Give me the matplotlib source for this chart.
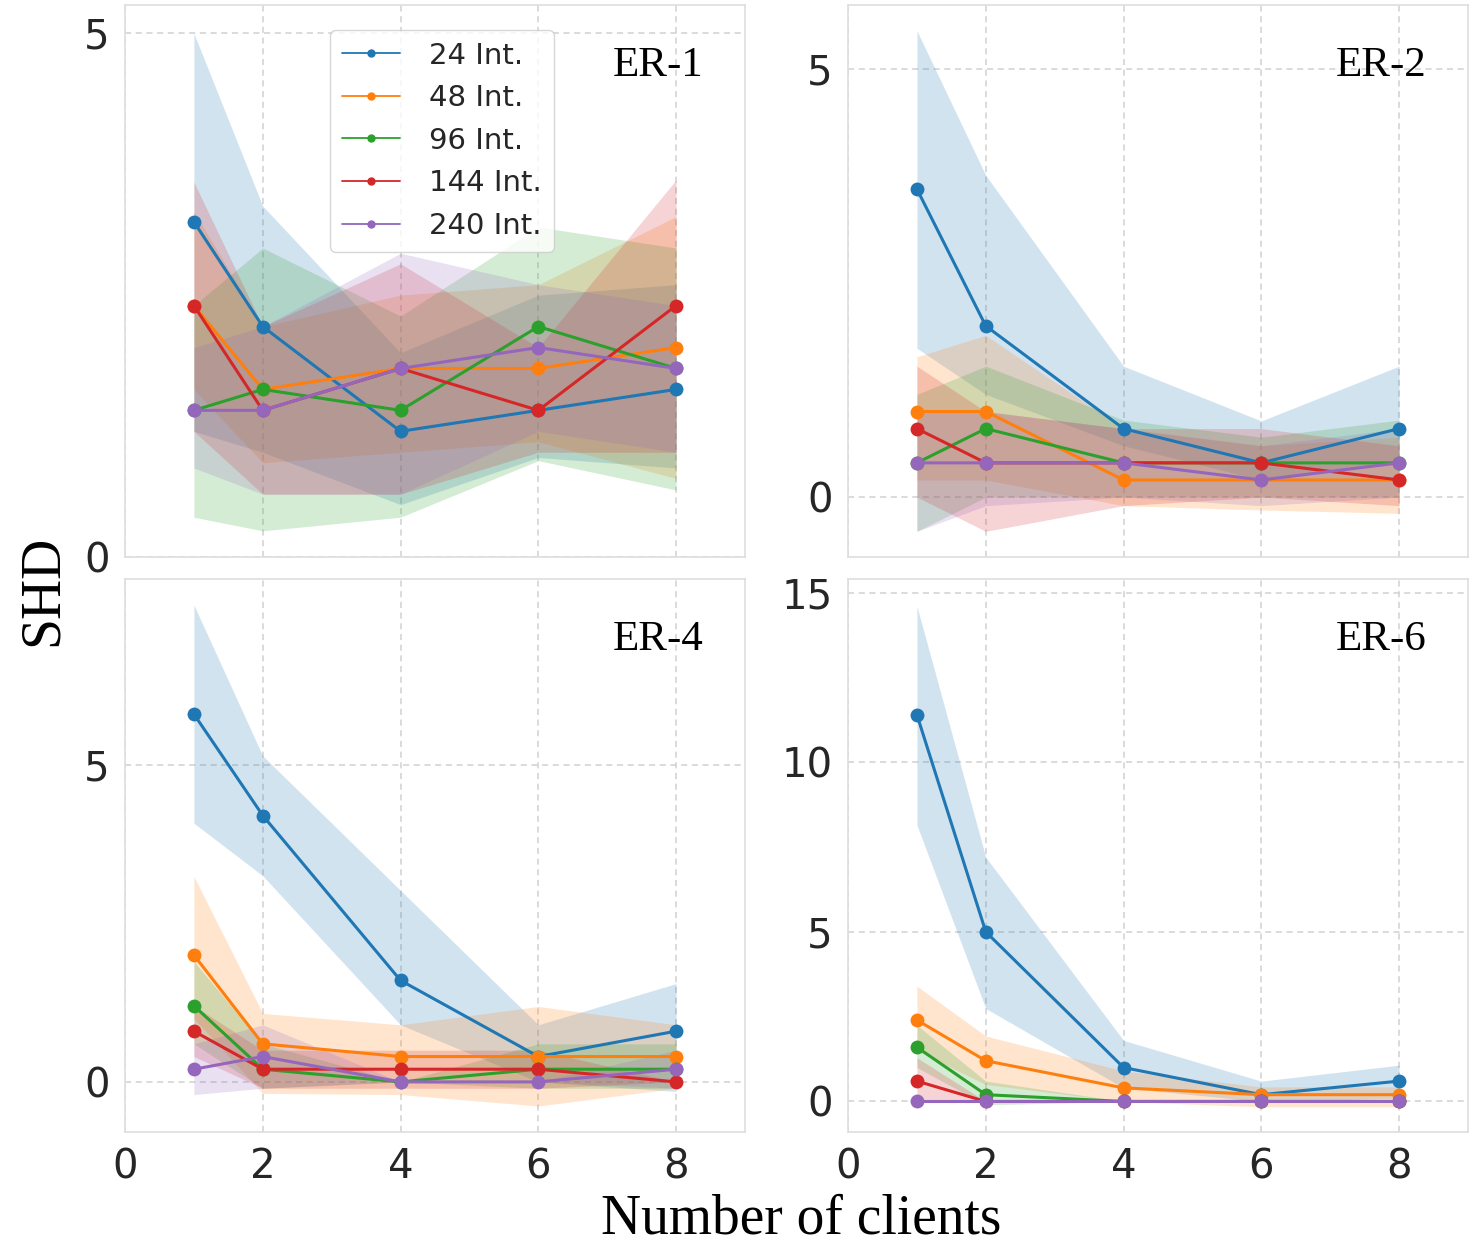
import matplotlib
matplotlib.use("Agg")
import matplotlib.pyplot as plt
from matplotlib.lines import Line2D
import seaborn as sns

# ---------------- data ----------------
clients = [1, 2, 4, 6, 8]
series_labels = ["24 Int.", "48 Int.", "96 Int.", "144 Int.", "240 Int."]
panel_names = ["ER-1", "ER-2", "ER-4", "ER-6"]

er1_mean = [[3.2, 2.2, 1.2, 1.4, 1.6],
            [2.4, 1.6, 1.8, 1.8, 2.0],
            [1.4, 1.6, 1.4, 2.2, 1.8],
            [2.4, 1.4, 1.8, 1.4, 2.4],
            [1.4, 1.4, 1.8, 2.0, 1.8]]
er1_low = [[1.2, 1.0, 0.5, 0.95, 0.85],
           [1.6, 0.9, 1.0, 1.1, 0.75],
           [0.38, 0.25, 0.38, 0.92, 0.64],
           [1.2, 0.6, 0.6, 1.0, 1.0],
           [0.85, 0.6, 0.6, 1.2, 1.0]]
er1_high = [[5.0, 3.35, 1.95, 2.5, 2.6],
            [3.3, 2.2, 2.5, 2.6, 3.25],
            [2.4, 2.95, 2.3, 3.15, 2.95],
            [3.58, 2.2, 2.8, 2.0, 3.6],
            [2.0, 2.2, 2.9, 2.6, 2.4]]

er2_mean = [[3.6, 2.0, 0.8, 0.4, 0.8],
            [1.0, 1.0, 0.2, 0.2, 0.2],
            [0.4, 0.8, 0.4, 0.4, 0.4],
            [0.8, 0.4, 0.4, 0.4, 0.2],
            [0.4, 0.4, 0.4, 0.2, 0.4]]
er2_low = [[1.74, 1.2, 0.6, 0.2, 0.4],
           [0.2, 0.2, -0.1, -0.15, -0.19],
           [-0.4, 0.0, 0.0, 0.0, 0.0],
           [0.0, -0.4, -0.1, 0.0, -0.1],
           [-0.4, -0.1, 0.0, -0.1, 0.0]]
er2_high = [[5.45, 3.76, 1.53, 0.89, 1.53],
            [1.64, 1.89, 0.8, 0.6, 0.7],
            [1.2, 1.53, 0.9, 0.7, 0.9],
            [1.53, 1.0, 0.8, 0.8, 0.6],
            [1.0, 1.0, 0.8, 0.6, 0.8]]

er4_mean = [[5.8, 4.2, 1.6, 0.4, 0.8],
            [2.0, 0.6, 0.4, 0.4, 0.4],
            [1.2, 0.2, 0.0, 0.2, 0.2],
            [0.8, 0.2, 0.2, 0.2, 0.0],
            [0.2, 0.4, 0.0, 0.0, 0.2]]
er4_low = [[4.08, 3.25, 0.9, 0.0, -0.15],
           [1.0, -0.18, -0.2, -0.38, -0.1],
           [0.6, -0.1, 0.0, -0.1, -0.1],
           [0.4, -0.1, -0.1, -0.1, 0.0],
           [-0.2, -0.1, 0.0, 0.0, -0.1]]
er4_high = [[7.52, 5.14, 3.02, 0.9, 1.55],
            [3.24, 1.08, 0.9, 1.19, 0.9],
            [1.9, 0.6, 0.0, 0.6, 0.6],
            [1.2, 0.5, 0.5, 0.5, 0.0],
            [0.6, 0.9, 0.0, 0.0, 0.5]]

er6_mean = [[11.4, 5.0, 1.0, 0.2, 0.6],
            [2.4, 1.2, 0.4, 0.2, 0.2],
            [1.6, 0.2, 0.0, 0.0, 0.0],
            [0.6, 0.0, 0.0, 0.0, 0.0],
            [0.0, 0.0, 0.0, 0.0, 0.0]]
er6_low = [[8.15, 2.74, 0.4, 0.0, 0.1],
           [1.5, 0.5, 0.0, -0.16, -0.16],
           [1.0, -0.1, 0.0, 0.0, 0.0],
           [0.0, 0.0, 0.0, 0.0, 0.0],
           [0.0, 0.0, 0.0, 0.0, 0.0]]
er6_high = [[14.6, 7.2, 1.8, 0.6, 1.07],
            [3.4, 1.93, 0.9, 0.43, 0.43],
            [2.25, 0.6, 0.0, 0.0, 0.0],
            [1.29, 0.0, 0.0, 0.0, 0.0],
            [0.0, 0.0, 0.0, 0.0, 0.0]]

panels = [(er1_mean, er1_low, er1_high),
          (er2_mean, er2_low, er2_high),
          (er4_mean, er4_low, er4_high),
          (er6_mean, er6_low, er6_high)]

y_ticks = [[0, 5], [0, 5], [0, 5], [0, 5, 10, 15]]
y_limits = [(0, 5.27), (-0.7, 5.75), (-0.79, 7.93), (-0.9, 15.4)]
x_ticks = [0, 2, 4, 6, 8]

# ---------------- style ----------------
sns.set_style("whitegrid", {"grid.linestyle": "--", "axes.edgecolor": ".85",
                            "grid.color": ".85"})
plt.rcParams["font.family"] = ["DejaVu Sans"]
colors = sns.color_palette("tab10", 5)
serif = ["Liberation Serif", "DejaVu Serif"]

W, H = 1479, 1260
fig = plt.figure(figsize=(W / 100, H / 100), dpi=100)

boxes = [(125, 5, 745, 557), (848, 5, 1468, 557),
         (125, 579, 745, 1132), (848, 579, 1468, 1132)]

for i, (box, (mean, low, high)) in enumerate(zip(boxes, panels)):
    x0, y0, x1, y1 = box
    ax = fig.add_axes([x0 / W, 1 - y1 / H, (x1 - x0) / W, (y1 - y0) / H])
    for k in range(5):
        ax.fill_between(clients, low[k], high[k], color=colors[k], alpha=0.2,
                        linewidth=0)
        ax.plot(clients, mean[k], color=colors[k], marker="o", markersize=10,
                markeredgewidth=0, linewidth=2.2)
    ax.set_xlim(0, 9)
    ax.set_ylim(*y_limits[i])
    ax.set_xticks(x_ticks)
    ax.set_yticks(y_ticks[i])
    ax.grid(True, linestyle=(0, (4, 3)), color=".82", linewidth=1.1)
    for s in ax.spines.values():
        s.set_color(".87")
        s.set_linewidth(1.2)
    ax.tick_params(axis="both", labelsize=29, colors="#262626", length=0,
                   pad=11)
    if i < 2:
        ax.tick_params(axis="x", labelbottom=False)
    ax.text(0.933, 0.89, panel_names[i], transform=ax.transAxes,
            ha="right", va="center", fontsize=31, family=serif, color="black")
    if i == 0:
        handles = [Line2D([], [], color=colors[k], marker="o", markersize=5,
                          linewidth=1.3) for k in range(5)]
        ax.legend(handles, series_labels, loc="upper left",
                  bbox_to_anchor=(0.331, 0.955), borderaxespad=0,
                  fontsize=21, frameon=True, handlelength=2.0,
                  labelspacing=0.5, handletextpad=1.0, borderpad=0.4)

fig.text(43 / W, 1 - 590 / H, "SHD", rotation=90, ha="center", va="center",
         fontsize=40, family=serif, color="black")
fig.text(801 / W, 1 - 1220 / H, "Number of clients", ha="center",
         va="center", fontsize=40, family=serif, color="black")

fig.savefig("out.png", dpi=100)
